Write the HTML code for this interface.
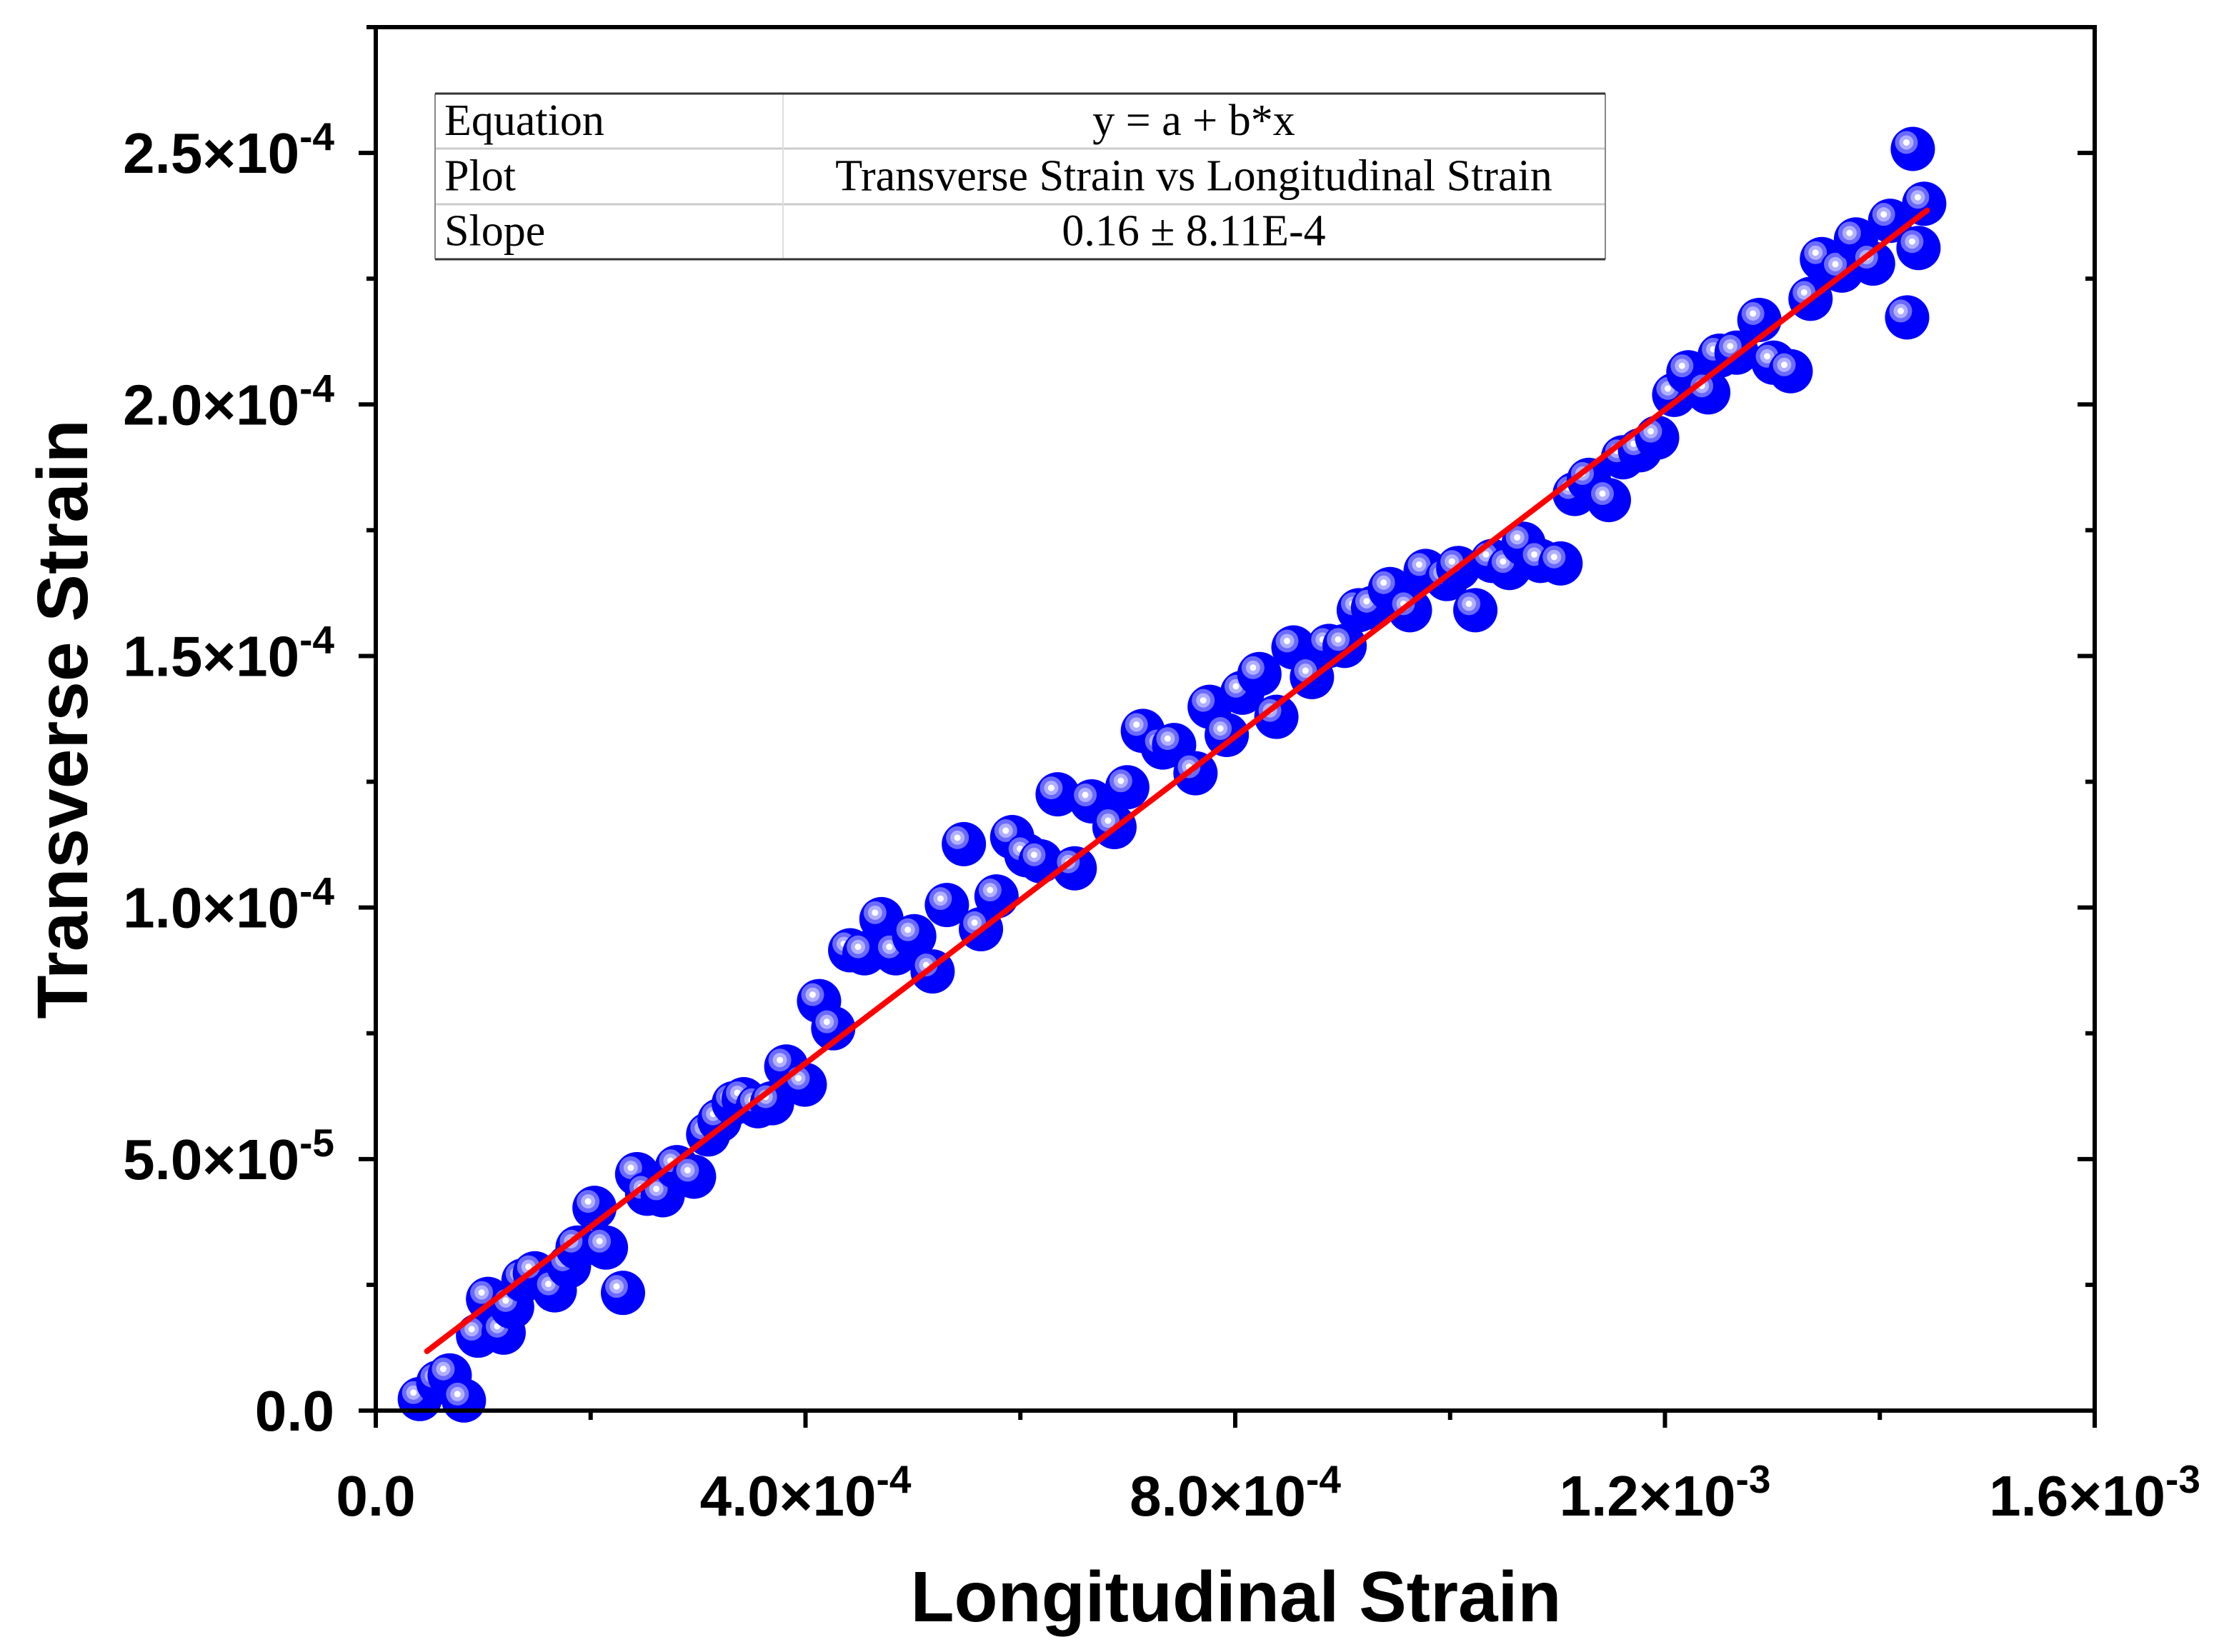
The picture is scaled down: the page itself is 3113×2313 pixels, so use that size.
<!DOCTYPE html>
<html><head><meta charset="utf-8"><style>
html,body{margin:0;padding:0;background:#fff;}
svg{display:block;}
</style></head><body>
<svg id="chart" width="3113" height="2313" viewBox="0 0 3113 2313" xmlns="http://www.w3.org/2000/svg">
<g id="plot"></g>
</svg>
<script>
// data in units of 1e-4
const xVals = [0.410,0.582,0.688,0.820,0.952,1.045,1.190,1.269,1.375,1.481,1.666,1.798,1.878,2.036,2.142,2.301,2.433,2.526,2.671,2.803,2.962,3.094,3.200,3.332,3.425,3.557,3.689,3.821,3.993,4.126,4.258,4.416,4.549,4.707,4.840,5.012,5.183,5.316,5.474,5.633,5.778,5.924,6.056,6.188,6.347,6.506,6.664,6.876,6.995,7.140,7.326,7.431,7.630,7.762,7.921,8.066,8.225,8.383,8.542,8.714,8.873,9.018,9.150,9.283,9.441,9.626,9.772,9.970,10.076,10.235,10.393,10.552,10.684,10.843,11.028,11.160,11.292,11.478,11.610,11.768,11.927,12.086,12.218,12.403,12.509,12.667,12.879,13.011,13.170,13.355,13.461,13.646,13.778,13.937,14.096,14.307,14.360,14.413,14.254];
const yVals = [0.023,0.056,0.070,0.020,0.149,0.222,0.155,0.206,0.259,0.273,0.239,0.287,0.324,0.403,0.324,0.234,0.470,0.431,0.428,0.484,0.465,0.549,0.577,0.611,0.619,0.605,0.611,0.684,0.648,0.814,0.760,0.915,0.909,0.977,0.909,0.943,0.873,1.005,1.126,0.957,1.022,1.140,1.104,1.092,1.225,1.078,1.211,1.160,1.239,1.351,1.318,1.323,1.267,1.399,1.343,1.427,1.464,1.379,1.517,1.458,1.520,1.520,1.591,1.596,1.633,1.591,1.669,1.653,1.675,1.591,1.689,1.675,1.723,1.689,1.684,1.822,1.850,1.810,1.895,1.909,1.934,2.019,2.064,2.024,2.097,2.103,2.168,2.083,2.066,2.210,2.289,2.266,2.328,2.280,2.365,2.508,2.311,2.399,2.173];
const fitParams = [0.0407, 0.1624]; // intercept (1e-4), slope
const fitRange = [0.476, 14.44];
const xTicks = [0, 4, 8, 12, 16];
const xTickLabels = ["0.0","4.0×10","8.0×10","1.2×10","1.6×10"];
const xTickExps = ["","-4","-4","-3","-3"];
const yTicks = [0, 0.5, 1.0, 1.5, 2.0, 2.5];
const yTickLabels = ["0.0","5.0×10","1.0×10","1.5×10","2.0×10","2.5×10"];
const yTickExps = ["","-5","-4","-4","-4","-4"];

const L=526,R=2932,T=38,B=1975;
const X=v=>L+(v-0)/16*(R-L);
const Y=v=>B-(v-0)/2.75*(B-T);
const NS="http://www.w3.org/2000/svg";
const g=document.getElementById('plot');
function el(tag,attrs,parent){const e=document.createElementNS(NS,tag);for(const k in attrs)e.setAttribute(k,attrs[k]);(parent||g).appendChild(e);return e;}

const mg=el('g',{});


for(let i=0;i<xVals.length;i++){
  const cx=X(xVals[i]),cy=Y(yVals[i]);
  const p=el('g',{},mg);
  
  
  el('ellipse',{cx:cx,cy:cy,rx:31,ry:31,fill:'#0000ff'},p);
  el('circle',{cx:cx-9,cy:cy-9,r:16,fill:'#6b6bff'},p);
  el('circle',{cx:cx-9,cy:cy-9,r:10,fill:'#b0b0ff'},p);
  el('circle',{cx:cx-9,cy:cy-9,r:4.5,fill:'#ffffff'},p);
}
const fl=el('line',{x1:X(fitRange[0]),y1:Y(fitParams[0]+fitParams[1]*fitRange[0]),x2:X(fitRange[1]),y2:Y(fitParams[0]+fitParams[1]*fitRange[1]),stroke:'#ff0000','stroke-width':8,'stroke-linecap':'round'});



const fr=el('rect',{x:L,y:T,width:R-L,height:B-T,fill:'none',stroke:'#000','stroke-width':6});



for(let v=0;v<=2.75001;v+=0.25){
  const maj=Math.abs(v*2-Math.round(v*2))<1e-6;
  const len=maj?24:13;
  el('line',{x1:L-len,y1:Y(v),x2:L,y2:Y(v),stroke:'#000','stroke-width':6});
  el('line',{x1:R-len,y1:Y(v),x2:R,y2:Y(v),stroke:'#000','stroke-width':6});
}
for(let v=0;v<=16.001;v+=2){
  const maj=(Math.round(v)%4===0);
  const len=maj?24:13;
  el('line',{x1:X(v),y1:B,x2:X(v),y2:B+len,stroke:'#000','stroke-width':6});
}
for(let i=0;i<yTicks.length;i++){
  const t=el('text',{x:468,y:Y(yTicks[i])+28,'text-anchor':'end','font-family':'Liberation Sans, sans-serif','font-weight':'bold','font-size':80,fill:'#000'});
  
  
  t.appendChild(document.createTextNode(yTickLabels[i]));
  if(yTickExps[i]){const s=el('tspan',{dy:-32,'font-size':55},t);s.textContent=yTickExps[i];}
}
for(let i=0;i<xTicks.length;i++){
  const t=el('text',{x:X(xTicks[i]),y:2122,'text-anchor':'middle','font-family':'Liberation Sans, sans-serif','font-weight':'bold','font-size':80,fill:'#000'});
  
  
  t.appendChild(document.createTextNode(xTickLabels[i]));
  if(xTickExps[i]){const s=el('tspan',{dy:-32,'font-size':55},t);s.textContent=xTickExps[i];}
}
const xt=el('text',{x:1730,y:2270,'text-anchor':'middle','font-family':'Liberation Sans, sans-serif','font-weight':'bold','font-size':100,fill:'#000'});


xt.textContent='Longitudinal Strain';
const yt=el('text',{x:0,y:0,transform:'translate(122,1007) rotate(-90)','text-anchor':'middle','font-family':'Liberation Sans, sans-serif','font-weight':'bold','font-size':100,fill:'#000'});


yt.textContent='Transverse Strain';

const tb=el('g',{});


el('rect',{x:609,y:131,width:1638,height:232,fill:'#fff',stroke:'none'},tb);
el('line',{x1:609,y1:208,x2:2247,y2:208,stroke:'#ccc','stroke-width':3},tb);
el('line',{x1:609,y1:286,x2:2247,y2:286,stroke:'#ccc','stroke-width':3},tb);
el('line',{x1:1096,y1:131,x2:1096,y2:363,stroke:'#ddd','stroke-width':2},tb);
el('line',{x1:609,y1:131,x2:609,y2:363,stroke:'#888','stroke-width':2},tb);
el('line',{x1:2247,y1:131,x2:2247,y2:363,stroke:'#888','stroke-width':2},tb);
el('line',{x1:609,y1:131,x2:2247,y2:131,stroke:'#333','stroke-width':3},tb);
el('line',{x1:609,y1:363,x2:2247,y2:363,stroke:'#333','stroke-width':3},tb);
const rows=[["Equation","y = a + b*x"],["Plot","Transverse Strain vs Longitudinal Strain"],["Slope","0.16 ± 8.11E-4"]];
const rowNames=['equation-row','plot-row','slope-row'];
for(let i=0;i<3;i++){
  const yb=131+i*77.3+58;
  const a=el('text',{x:622,y:yb,'font-family':'Liberation Serif, serif','font-size':62,fill:'#000'},tb);
  
  
  a.textContent=rows[i][0];
  const b=el('text',{x:1671,y:yb,'text-anchor':'middle','font-family':'Liberation Serif, serif','font-size':62,fill:'#000'},tb);
  
  
  b.textContent=rows[i][1];
}
</script>
</body></html>
